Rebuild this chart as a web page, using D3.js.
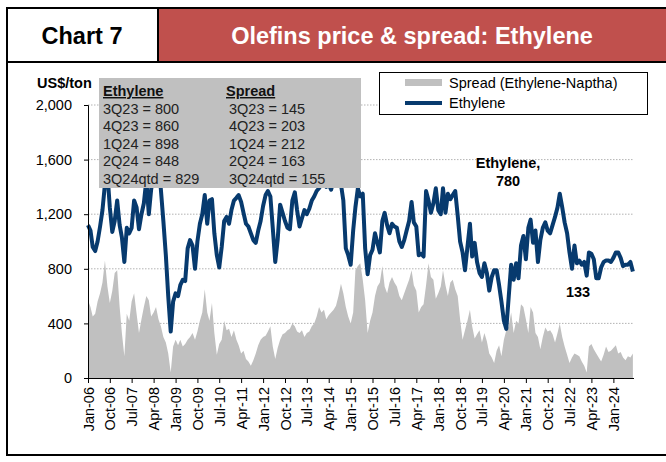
<!DOCTYPE html>
<html>
<head>
<meta charset="utf-8">
<script src="https://cdn.jsdelivr.net/npm/d3@7"></script>
<style>
  body { margin: 0; background: #fff; }
  svg { display: block; font-family: "Liberation Sans", Arial, sans-serif; }
</style>
</head>
<body>
<div id="chart"></div>
<script>
// monthly readings, Jan-06 .. Sep-24 (US$/ton)
const ethylene = [
  1120, 1080, 960, 930, 1000, 1110, 1230, 1420, 1500, 1250, 1070, 1150,
  1300, 1120, 1030, 850, 1100, 1060, 1100, 1300, 1250, 1090, 1200, 1280,
  1450, 1200, 1380, 1500, 1550, 1600, 1380, 1150, 900, 600, 340, 560,
  620, 600, 680, 720, 710, 950, 1010, 970, 800, 1000, 1130, 1200,
  1340, 1130, 1300, 1310, 1060, 900, 810, 960, 1150, 1180, 1130, 1230,
  1300, 1320, 1340, 1290, 1210, 1130, 1110, 1060, 1010, 990, 1080, 1150,
  1260, 1340, 1370, 1330, 1100, 850, 1010, 1270, 1210, 1150, 1100, 1090,
  1300, 1360, 1230, 1110, 1170, 1230, 1200, 1240, 1300, 1330, 1370, 1390,
  1420, 1450, 1400, 1420, 1380, 1450, 1480, 1500, 1420, 1300, 950, 900,
  830, 1080, 1250, 1390, 1330, 1350, 950, 760, 900, 940, 1060, 990,
  920, 1150, 1210, 1120, 1060, 1130, 1110, 1100, 1000, 960, 1010, 1080,
  1150, 1290, 1140, 1110, 900, 910, 890, 1370, 1300, 1210, 1280, 1390,
  1230, 1200, 1390, 1210, 1350, 1310, 1340, 1370, 1190, 1000, 920, 790,
  960, 1130, 890, 990, 850, 770, 740, 840, 770, 640, 740, 790,
  790, 680, 560, 420, 360, 600, 830, 720, 840, 730, 970, 1040,
  870, 1100, 1160, 990, 1080, 850, 1010, 1100, 1140, 1080, 1060, 1120,
  1180, 1250, 1350, 1250, 1140, 1060, 920, 800, 970, 840, 860, 830,
  850, 750, 920, 910, 870, 730, 730, 810, 850, 860, 860, 850,
  880, 920, 920, 880, 820, 830, 830, 850, 780
];
const spread = [
  570, 520, 450, 470, 560, 620, 700, 860, 670, 550, 640, 770,
  790, 520, 330, 160, 470, 420, 560, 620, 470, 330, 430, 520,
  600, 570, 450, 480, 520, 430, 380, 300, 260, 180, 40, 230,
  280, 240, 280, 230, 250, 280, 300, 330, 280, 340, 420, 480,
  650, 480, 420, 550, 330, 170, 250, 280, 420, 350, 360, 300,
  350, 280, 240, 180, 200, 140, 120, 90, 130, 180, 240, 280,
  300, 310, 340, 380, 230, 140, 220, 280, 320, 330, 350, 360,
  400, 380, 340, 330, 350, 300, 330, 340, 380, 400, 450, 520,
  480, 500, 430, 460, 480, 500, 530, 600, 690, 620, 520, 450,
  400, 480, 790, 820, 840, 720, 570, 330, 420, 480, 600, 670,
  700, 820, 670, 620, 700, 740, 700, 670, 600, 570, 620, 670,
  720, 790, 680, 640, 480, 520, 540, 680, 840, 740, 720, 580,
  620, 670, 790, 680, 600, 700, 720, 650, 600, 430, 280, 350,
  420, 500, 380, 290, 320, 350, 260, 330, 270, 180, 150, 110,
  200, 240, 160, 280, 350, 380, 480, 330, 420, 400, 540, 520,
  430, 330, 520, 480, 330, 300, 210, 300, 370, 340, 350, 320,
  260, 330, 400, 300, 230, 170, 110, 150, 180, 170, 160, 120,
  90, 40, 230, 250, 210, 180, 150, 120, 170, 230, 190, 200,
  220, 240, 180, 190, 150, 130, 160, 150, 180
];
const tickLabels = [
  "Jan-06", "Oct-06", "Jul-07", "Apr-08", "Jan-09", "Oct-09", "Jul-10",
  "Apr-11", "Jan-12", "Oct-12", "Jul-13", "Apr-14", "Jan-15", "Oct-15",
  "Jul-16", "Apr-17", "Jan-18", "Oct-18", "Jul-19", "Apr-20", "Jan-21",
  "Oct-21", "Jul-22", "Apr-23", "Jan-24"
];
const yTicks = [0, 400, 800, 1200, 1600, 2000];
const ethyleneTable = [
  ["3Q23", 800], ["4Q23", 860], ["1Q24", 898], ["2Q24", 848], ["3Q24qtd", 829]
];
const spreadTable = [
  ["3Q23", 145], ["4Q23", 203], ["1Q24", 212], ["2Q24", 163], ["3Q24qtd", 155]
];

const width = 666, height = 462;
const NAVY = "#073a6e", GREY = "#c0c0c0", RED = "#c0504d";
const parseTick = d3.timeParse("%b-%y");

const svg = d3.select("#chart").append("svg")
  .attr("width", width).attr("height", height);

svg.append("rect").attr("width", width).attr("height", height).attr("fill", "#fff");

// header band
svg.append("rect").attr("x", 158).attr("y", 8).attr("width", 510).attr("height", 54).attr("fill", RED);
svg.append("line").attr("x1", 158).attr("x2", 158).attr("y1", 8).attr("y2", 62)
  .attr("stroke", "#000").attr("stroke-width", 2);
svg.append("text").attr("x", 82).attr("y", 44).attr("text-anchor", "middle")
  .attr("font-size", 23.5).attr("font-weight", "bold").attr("fill", "#000").text("Chart 7");
svg.append("text").attr("x", 412).attr("y", 44).attr("text-anchor", "middle")
  .attr("font-size", 23.5).attr("font-weight", "bold").attr("fill", "#fff")
  .text("Olefins price & spread: Ethylene");

// frame
svg.append("path")
  .attr("d", "M668,8 H7 V455 H668 M7,62 H668")
  .attr("fill", "none").attr("stroke", "#000").attr("stroke-width", 2);

const dates = ethylene.map((_, i) => new Date(2006, i, 1));
const x = d3.scaleTime()
  .domain([new Date(2006, 0, 1), new Date(2024, 8, 15)])
  .range([88, 634]);
const y = d3.scaleLinear().domain([0, 2000]).range([378, 105]);

// gridlines
svg.append("g").selectAll("line")
  .data(yTicks.filter(d => d > 0))
  .join("line")
  .attr("x1", 88).attr("x2", 634)
  .attr("y1", d => y(d)).attr("y2", d => y(d))
  .attr("stroke", "#a0a0a0").attr("stroke-width", 0.8).attr("stroke-dasharray", "1.5,1.5");

const area = d3.area()
  .x((d, i) => x(dates[i]))
  .y0(y(0))
  .y1(d => y(d));
svg.append("path").datum(spread).attr("d", area).attr("fill", GREY);

const line = d3.line()
  .x((d, i) => x(dates[i]))
  .y(d => y(d));
svg.append("path").datum(ethylene).attr("d", line)
  .attr("fill", "none").attr("stroke", NAVY).attr("stroke-width", 4)
  .attr("stroke-linejoin", "round");

// axes
const yAxis = svg.append("g").attr("transform", "translate(88,0)")
  .call(d3.axisLeft(y).tickValues(yTicks).tickFormat(d3.format(",")).tickSize(4).tickPadding(12));
const xAxis = svg.append("g").attr("transform", "translate(0,378)")
  .call(d3.axisBottom(x).tickValues(tickLabels.map(parseTick))
    .tickFormat(d3.timeFormat("%b-%y")).tickSize(5).tickPadding(4));
[yAxis, xAxis].forEach(g => {
  g.select(".domain").attr("stroke", "#000");
  g.selectAll(".tick line").attr("stroke", "#000");
  g.selectAll("text").attr("font-size", 14.5).attr("fill", "#000")
    .attr("font-family", "'Liberation Sans', Arial, sans-serif");
});
xAxis.select(".domain").attr("d", "M88,0.5H634");
xAxis.selectAll("text")
  .attr("transform", "rotate(-90)")
  .attr("text-anchor", "end")
  .attr("x", -9).attr("y", 0).attr("dy", "0.35em");

svg.append("text").attr("x", 37).attr("y", 88)
  .attr("font-size", 14.5).attr("font-weight", "bold").text("US$/ton");

// quarterly summary box
const box = svg.append("g");
box.append("rect").attr("x", 99).attr("y", 78).attr("width", 262).attr("height", 110).attr("fill", GREY);
const cols = [
  { title: "Ethylene", rows: ethyleneTable, tx: 103, vx: 103 },
  { title: "Spread", rows: spreadTable, tx: 226, vx: 229 },
];
cols.forEach(c => {
  box.append("text").attr("x", c.tx).attr("y", 96)
    .attr("font-size", 14.5).attr("font-weight", "bold")
    .attr("text-decoration", "underline").attr("fill", "#111").text(c.title);
  box.selectAll(null).data(c.rows).join("text")
    .attr("x", c.vx).attr("y", (d, i) => 113.6 + i * 17.6)
    .attr("font-size", 14.5).attr("fill", "#222")
    .text(d => `${d[0]} = ${d[1]}`);
});

// legend
const lg = svg.append("g");
lg.append("rect").attr("x", 379.5).attr("y", 72.5).attr("width", 268).attr("height", 42)
  .attr("fill", "#fff").attr("stroke", "#000").attr("stroke-width", 1);
lg.append("rect").attr("x", 405).attr("y", 79).attr("width", 37).attr("height", 7).attr("fill", GREY);
lg.append("line").attr("x1", 405).attr("x2", 442).attr("y1", 103).attr("y2", 103)
  .attr("stroke", NAVY).attr("stroke-width", 4);
lg.append("text").attr("x", 449).attr("y", 88).attr("font-size", 14.5).text("Spread (Ethylene-Naptha)");
lg.append("text").attr("x", 449).attr("y", 108).attr("font-size", 14.5).text("Ethylene");

// annotations
const note = svg.append("g").attr("font-size", 14.5).attr("font-weight", "bold").attr("text-anchor", "middle");
note.append("text").attr("x", 508).attr("y", 168).text("Ethylene,");
note.append("text").attr("x", 508).attr("y", 186).text(ethylene[ethylene.length - 1]);
note.append("text").attr("x", 578).attr("y", 297).text(133);
</script>
</body>
</html>
